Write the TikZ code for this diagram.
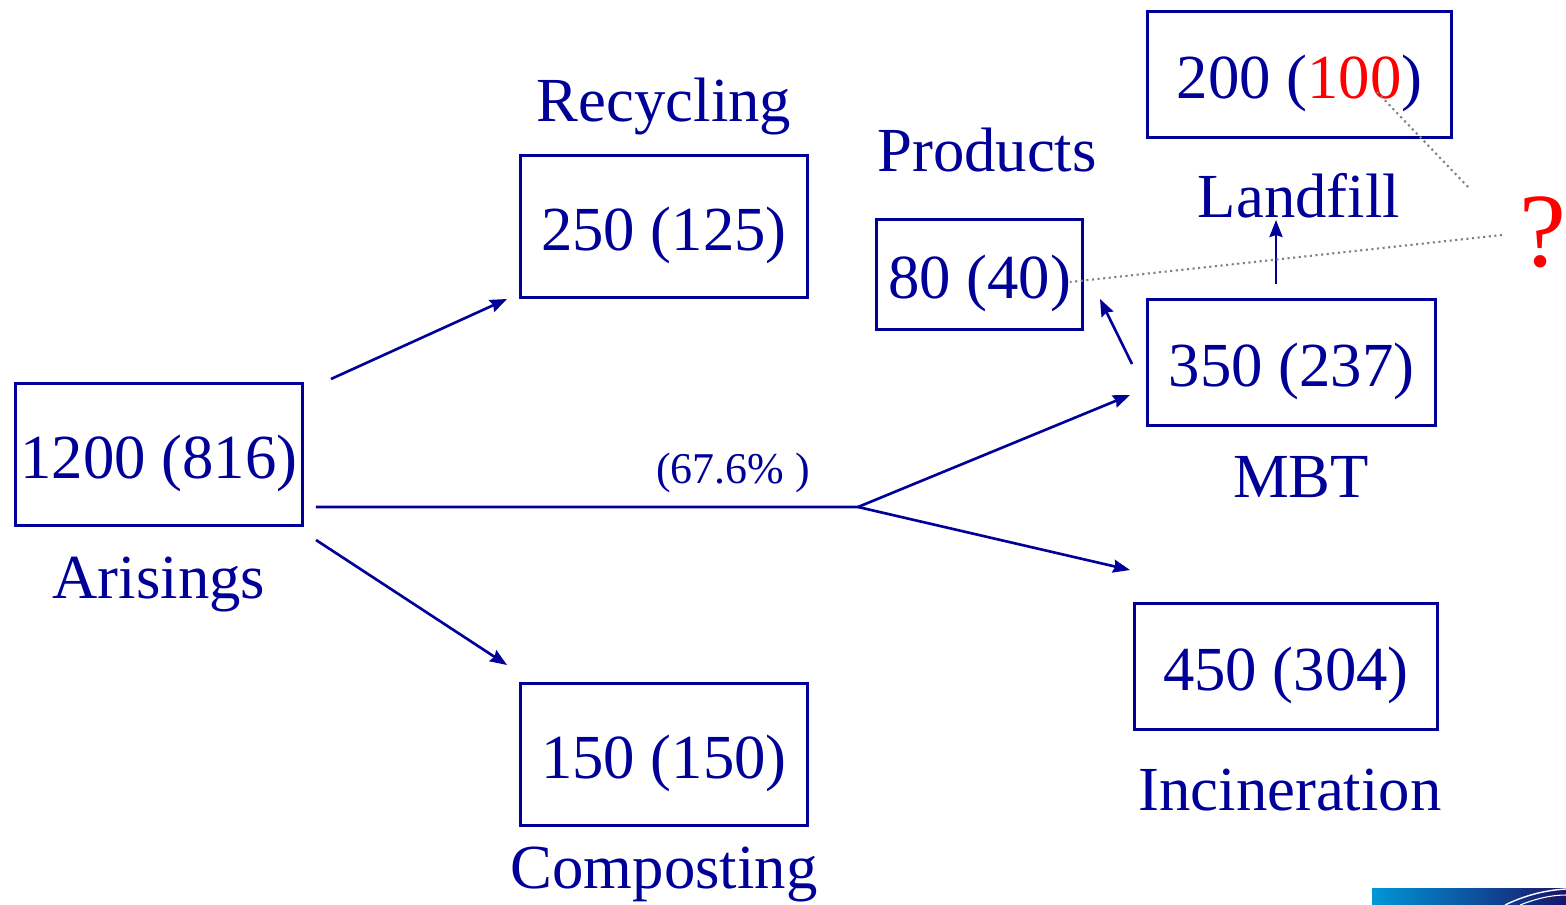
\documentclass[tikz,border=0pt]{standalone}
\usepackage{fontspec}
\setmainfont{Liberation Serif}
\usetikzlibrary{arrows.meta}
\definecolor{flowblue}{RGB}{0,0,153}
\definecolor{dotgray}{RGB}{128,128,128}
\definecolor{logocyan}{RGB}{0,150,215}
\definecolor{logonavy}{RGB}{25,20,105}
\tikzset{
  numbox/.style={draw=flowblue, line width=1.7pt, text=flowblue, inner sep=0pt, outer sep=0pt,
    text height=0.945cm, text depth=0pt, font=\fontsize{35.7}{42}\selectfont},
  lbl/.style={anchor=base, text=flowblue, inner sep=0pt, font=\fontsize{35.7}{42}\selectfont},
  flow/.style={draw=flowblue, line width=1.5pt, -{Stealth[length=0.34cm,width=0.26cm,inset=0.04cm]}},
  guess/.style={draw=dotgray, line width=1.2pt, dotted}
}
\begin{document}
\begin{tikzpicture}[x=0.02cm, y=-0.02cm]
\useasboundingbox (0,0) rectangle (1566,905);

%boxes
\node (arise) [numbox, minimum width=5.76cm, minimum height=2.86cm] at (159,454.5) {1200 (816)};
\node (recyc) [numbox, minimum width=5.76cm, minimum height=2.86cm] at (664,226.5) {250 (125)};
\node (compo) [numbox, minimum width=5.76cm, minimum height=2.86cm] at (664,754.5) {150 (150)};
\node (prod) [numbox, minimum width=4.14cm, minimum height=2.22cm] at (979.5,274.5) {80 (40)};
\node (land) [numbox, minimum width=6.1cm, minimum height=2.54cm] at (1299.5,74.5) {200 (\textcolor{red}{100})};
\node (mbt) [numbox, minimum width=5.78cm, minimum height=2.54cm] at (1291.5,362.5) {350 (237)};
\node (incin) [numbox, minimum width=6.08cm, minimum height=2.54cm] at (1286,666.5) {450 (304)};

%labels
\node (arilbl) [lbl] at (159,598) {Arisings};
\node (reclbl) [lbl] at (664,122) {Recycling};
\node (comlbl) [lbl] at (664,888) {Composting};
\node (prolbl) [lbl] at (987,172) {Products};
\node (lanlbl) [lbl] at (1299,218) {Landfill};
\node (mbtlbl) [lbl] at (1301,498) {MBT};
\node (inclbl) [lbl] at (1290,810) {Incineration};
\node (share) [lbl, font=\fontsize{25}{30}\selectfont] at (733,483) {(67.6\% )};
\node (qmark) [anchor=base, text=red, inner sep=0pt, font=\fontsize{60}{70}\selectfont] at (1543,267) {?};

% split point of the main stream
\coordinate (split) at (858,507);

% arrows
\draw [flow] ([shift={(28,-4)}]arise.north east) -- ([shift={(-13,1)}]recyc.south west);
\draw [flow] ([shift={(13,14)}]arise.south east) -- ([shift={(-13,-18)}]compo.north west);
\draw [draw=flowblue, line width=1.5pt] ([shift={(13,-19)}]arise.south east) -- (split);
\draw [flow] (split) -- ([shift={(-17,-31)}]mbt.south west);
\draw [flow] (split) -- ([shift={(-4,-33)}]incin.north west);
\draw [flow] ([shift={(-15,1.5)}]mbt.west) -- ([shift={(17,-31)}]prod.south east);
\draw [flow] ([shift={(-15.5,-15)}]mbt.north) -- ([shift={(-23,2)}]lanlbl.base);

% dotted question lines
\draw [guess] ([shift={(-41,-32)}]qmark.base) -- ([shift={(-13,7.5)}]prod.east);
\draw [guess] ([shift={(-75,-80)}]qmark.base) -- ([shift={(75.5,15.5)}]land.center);

% logo strip
\shade [left color=logocyan, right color=logonavy] (1372,888) rectangle (1566,905);
\draw [white, line width=0.8pt] (1505,905) .. controls (1530,893) and (1550,890) .. (1566,889);
\draw [white, line width=0.6pt] (1520,905) .. controls (1540,897) and (1555,895) .. (1566,895);
\end{tikzpicture}
\end{document}
